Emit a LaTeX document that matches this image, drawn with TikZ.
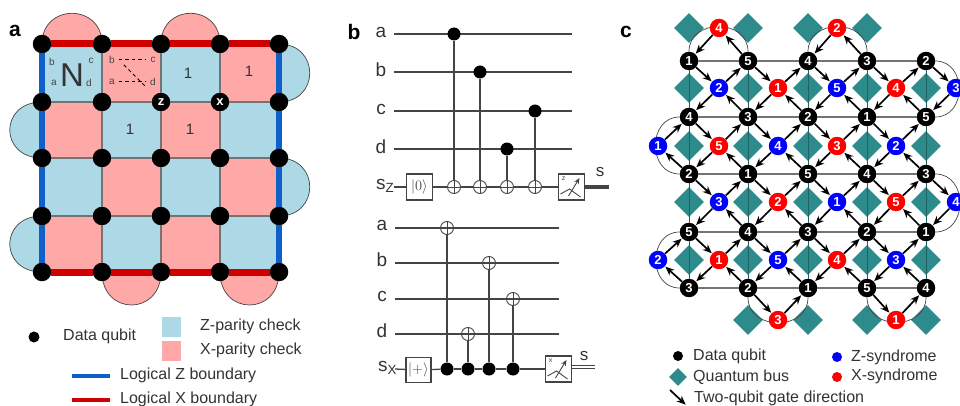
\documentclass[tikz,border=0pt]{standalone}
\usepackage{fontspec}
\setmainfont{Liberation Sans}
\usetikzlibrary{shapes.geometric,arrows.meta}
\definecolor{zchk}{HTML}{ADD8E6}
\definecolor{xchk}{HTML}{FFA8A8}
\definecolor{zline}{HTML}{0F5FC8}
\definecolor{xline}{HTML}{D00000}
\definecolor{busc}{HTML}{2E8B8B}
\definecolor{wirec}{HTML}{444444}
\definecolor{txtc}{HTML}{333333}
\newcommand{\fs}[1]{\fontsize{#1}{#1}\selectfont}
\newcommand{\zcell}[2]{\fill[zchk] (#1,#2) rectangle ++(59.5,57.5);}
\newcommand{\xcell}[2]{\fill[xchk] (#1,#2) rectangle ++(59.5,57.5);}
\newcommand{\meterbox}[4]{%
  \node[measbox] (#1) at (#2,#3) {};
  \draw[wirec,line width=.9pt] (#2-11,#3+7) -- (#2-2,#3+2) -- (#2+9,#3+10);
  \draw[wirec,line width=.9pt,-{Stealth[length=6pt,width=5pt]}] (#2-3,#3+9) -- (#2+8,#3-9);
  \node[text=wirec,inner sep=0pt] at (#2-8,#3-8) {\fs{7}#4};}
\tikzset{
  x=1pt,y=-1pt,
  dq/.style={circle,fill=black,inner sep=0pt,minimum size=18.5pt,text=white,font=\bfseries\fs{13}},
  zs/.style={circle,fill=blue,inner sep=0pt,minimum size=18.5pt,text=white,font=\bfseries\fs{13}},
  xs/.style={circle,fill=red,inner sep=0pt,minimum size=18.5pt,text=white,font=\bfseries\fs{13}},
  bus/.style={diamond,fill=busc,inner sep=0pt,minimum size=30pt},
  gridl/.style={draw=gray!90!black,line width=1.2pt},
  busl/.style={draw=busc!70!black,line width=.7pt},
  arcl/.style={draw=wirec,line width=.7pt},
  gate/.style={black,line width=1.7pt,shorten <=0pt,shorten >=.5pt,-{Stealth[length=9pt,width=7.5pt]}},
  semi/.style={draw=wirec,line width=.7pt},
  panel/.style={font=\bfseries\fs{21},text=black,inner sep=0pt},
  lbl/.style={font=\fs{16},text=txtc,inner sep=0pt,anchor=west},
  small/.style={font=\fs{10},text=wirec,inner sep=0pt},
  one/.style={font=\fs{15},text=txtc,inner sep=0pt},
  wlab/.style={font=\fs{19},text=txtc,inner sep=0pt},
  wire/.style={draw=wirec,line width=1.3pt},
  ctrl/.style={circle,fill=black,inner sep=0pt,minimum size=13pt},
  oplus/.style={circle,draw=wirec,line width=.9pt,inner sep=0pt,minimum size=13pt,
    path picture={\draw[wirec,line width=.9pt]
      (path picture bounding box.north)--(path picture bounding box.south)
      (path picture bounding box.east)--(path picture bounding box.west);}},
  initbox/.style={draw=wirec,fill=white,line width=1.4pt,inner sep=0pt,minimum width=26pt,minimum height=26pt,text=wirec},
  measbox/.style={draw=wirec,fill=white,line width=1.4pt,inner sep=0pt,minimum width=26pt,minimum height=26pt},
  dashl/.style={black,line width=1pt,dash pattern=on 3.5pt off 3pt,shorten <=4pt,shorten >=4pt},
}
\begin{document}
\begin{tikzpicture}
\useasboundingbox (0,0) rectangle (960,406);
% ---------- panel a ----------
\node[panel] (la) at (15,31) {a};
\zcell{42}{44}\xcell{102}{44}\zcell{161}{44}\xcell{220}{44}
\xcell{42}{102}\zcell{102}{102}\xcell{161}{102}\zcell{220}{102}
\zcell{42}{158}\xcell{102}{158}\zcell{161}{158}\xcell{220}{158}
\xcell{42}{215}\zcell{102}{215}\xcell{161}{215}\zcell{220}{215}
\foreach \nm/\x/\y in {a00/42/44,a01/102/44,a02/161/44,a03/220/44,a04/279/44,
  a10/42/102,a11/102/102,a14/279/102,
  a20/42/158,a21/102/158,a22/161/158,a23/220/158,a24/279/158,
  a30/42/216,a31/102/216,a32/161/216,a33/220/216,a34/279/216,
  a40/42/272,a41/102/272,a42/161/272,a43/220/272,a44/279/272}
  {\coordinate (c\nm) at (\x,\y);}
\coordinate (ca12) at (161,102); \coordinate (ca13) at (220,102);
% boundary half circles
\draw[semi,fill=xchk] (ca00) .. controls +(0,-41) and +(0,-41) .. (ca01);
\draw[semi,fill=xchk] (ca02) .. controls +(0,-41) and +(0,-41) .. (ca03);
\draw[semi,fill=xchk] (ca41) .. controls +(0,44) and +(0,44) .. (ca42);
\draw[semi,fill=xchk] (ca43) .. controls +(0,44) and +(0,44) .. (ca44);
\draw[semi,fill=zchk] (ca04) .. controls +(41,0) and +(41,0) .. (ca14);
\draw[semi,fill=zchk] (ca24) .. controls +(41,0) and +(41,0) .. (ca34);
\draw[semi,fill=zchk] (ca10) .. controls +(-43,0) and +(-43,0) .. (ca20);
\draw[semi,fill=zchk] (ca30) .. controls +(-43,0) and +(-43,0) .. (ca40);
% data qubits of panel a
\foreach \nm in {a00,a01,a02,a03,a04,a10,a11,a14,a20,a21,a22,a23,a24,a30,a31,a32,a33,a34,a40,a41,a42,a43,a44}
  {\node[dq] (\nm) at (c\nm) {};}
\node[dq] (a12) at (ca12) {z};
\node[dq] (a13) at (ca13) {x};
\foreach \aa/\bb in {a10/a11,a11/a12,a12/a13,a13/a14,a20/a21,a21/a22,a22/a23,a23/a24,a30/a31,a31/a32,a32/a33,a33/a34,
  a01/a11,a11/a21,a21/a31,a31/a41,a02/a12,a12/a22,a22/a32,a32/a42,a03/a13,a13/a23,a23/a33,a33/a43}
  {\draw[gridl] (\aa) -- (\bb);}
\foreach \aa/\bb in {a00/a10,a10/a20,a20/a30,a30/a40,a04/a14,a14/a24,a24/a34,a34/a44}
  {\draw[zline,line width=6pt] (\aa) -- (\bb);}
\foreach \aa/\bb in {a00/a01,a01/a02,a02/a03,a03/a04,a40/a41,a41/a42,a42/a43,a43/a44}
  {\draw[xline,line width=7pt] (\aa) -- (\bb);}
% cell labels
\node[small] (n1b) at (52,62) {b};
\node[small] (n1c) at (91,61) {c};
\node[small] (n1a) at (54,83) {a};
\node[small] (n1d) at (89,83) {d};
\node[font=\fs{33},text=txtc,inner sep=0pt] (n1N) at (72,75) {N};
\node[small] (n2b) at (112,60) {b};
\node[small] (n2c) at (153,60) {c};
\node[small] (n2a) at (112,82) {a};
\node[small] (n2d) at (153,82) {d};
\coordinate (n2p) at (121,62);
\coordinate (n2q) at (148,89);
\draw[dashl] (n2b) -- (n2c);
\draw[dashl] (n2a) -- (n2d);
\draw[dashl] (n2p) -- (n2q);
\node[one] (o1) at (188,73) {1};
\node[one] (o2) at (249,71) {1};
\node[one] (o3) at (130,129) {1};
\node[one] (o4) at (190,129) {1};
% legend a
\node[circle,fill=black,inner sep=0pt,minimum size=11pt] (lgd) at (34,337) {};
\node[lbl] (lgdt) at (63,336) {Data qubit};
\node[fill=zchk,inner sep=0pt,minimum width=19pt,minimum height=20pt] (lgz) at (171.5,327) {};
\node[fill=xchk,inner sep=0pt,minimum width=19pt,minimum height=20pt] (lgx) at (171.5,351) {};
\node[lbl] (lgzt) at (200,326) {Z-parity check};
\node[lbl] (lgxt) at (200,350) {X-parity check};
\coordinate (lz1) at (72,376); \coordinate (lz2) at (110,376);
\coordinate (lx1) at (72,400); \coordinate (lx2) at (110,400);
\draw[zline,line width=3.5pt] (lz1) -- (lz2);
\draw[xline,line width=3.5pt] (lx1) -- (lx2);
\node[lbl] (lzt) at (120,375) {Logical Z boundary};
\node[lbl] (lxt) at (120,399) {Logical X boundary};
% ---------- panel b ----------
\node[panel] (lb) at (354,32) {b};
\foreach \nm/\txt/\y in {A/a/34,B/b/72,C/c/111,D/d/149}{
  \node[wlab] (u\nm) at (381,\y-2) {\txt};
  \coordinate (us\nm) at (394,\y); \coordinate (ue\nm) at (572,\y);
  \draw[wire] (us\nm) -- (ue\nm);}
\node[wlab,anchor=west] (uS) at (376,186) {s\textsubscript{Z}};
\coordinate (usS) at (394,187);
\node[initbox] (ui) at (419.5,187) {\fs{14}$|0\rangle$};
\meterbox{um}{571.5}{187}{z}
\node[ctrl] (uc1) at (454,34) {};
\node[ctrl] (uc2) at (480,72) {};
\node[ctrl] (uc3) at (507,149) {};
\node[ctrl] (uc4) at (535,111) {};
\node[oplus] (ut1) at (454,187) {};
\node[oplus] (ut2) at (480,187) {};
\node[oplus] (ut3) at (507,187) {};
\node[oplus] (ut4) at (535,187) {};
\draw[wire] (usS) -- (ui);
\draw[wire] (ui) -- (ut1);
\draw[wire] (ut1) -- (ut2);
\draw[wire] (ut2) -- (ut3);
\draw[wire] (ut3) -- (ut4);
\draw[wire] (ut4) -- (um);
\foreach \k in {1,2,3,4}{\draw[wire] (uc\k) -- (ut\k);}
\coordinate (uo) at (609,187);
\draw[wirec,line width=3.5pt] (um) -- (uo);
\node[font=\fs{17},text=txtc,inner sep=0pt] (uss) at (600,172) {s};
\foreach \nm/\txt/\y in {A/a/228,B/b/263,C/c/299,D/d/334}{
  \node[wlab] (v\nm) at (382,\y-3) {\txt};
  \coordinate (vs\nm) at (395,\y); \coordinate (ve\nm) at (559,\y);
  \draw[wire] (vs\nm) -- (ve\nm);}
\node[wlab,anchor=west] (vS) at (378,368) {s\textsubscript{X}};
\coordinate (vsS) at (395,369);
\node[initbox,minimum width=25pt,minimum height=25pt] (vi) at (418.5,370) {\fs{14}$|{+}\rangle$};
\meterbox{vm}{558.5}{369}{x}
\node[oplus] (vt1) at (447,228) {};
\node[oplus] (vt2) at (468,334) {};
\node[oplus] (vt3) at (489,263) {};
\node[oplus] (vt4) at (513,299) {};
\node[ctrl] (vc1) at (447,369) {};
\node[ctrl] (vc2) at (468,369) {};
\node[ctrl] (vc3) at (489,369) {};
\node[ctrl] (vc4) at (513,369) {};
\draw[wire] (vsS) -- (vi);
\draw[wire] (vi) -- (vc1);
\draw[wire] (vc1) -- (vc2);
\draw[wire] (vc2) -- (vc3);
\draw[wire] (vc3) -- (vc4);
\draw[wire] (vc4) -- (vm);
\foreach \k in {1,2,3,4}{\draw[wire] (vc\k) -- (vt\k);}
\coordinate (vo) at (595,367);
\draw[wirec,line width=.9pt,double=white,double distance=1.6pt] (vm.east |- vo) -- (vo);
\node[font=\fs{17},text=txtc,inner sep=0pt] (vss) at (584,356) {s};
% ---------- panel c ----------
\node[panel] (lc) at (626,32) {c};
\foreach \nm/\x/\y in {b1/689/28,b2/748/28,b3/808/28,b4/867/28,
  b5/689/88,b6/748/88,b7/808/88,b8/867/88,b9/926/88,
  b10/689/146,b11/748/146,b12/808/146,b13/867/146,b14/926/146,
  b15/689/202,b16/748/202,b17/808/202,b18/867/202,b19/926/202,
  b20/689/260,b21/748/260,b22/808/260,b23/867/260,b24/926/260,
  b25/748/320,b26/808/320,b27/867/320,b28/926/320}
  {\node[bus] (\nm) at (\x,\y) {};}
\foreach \nm/\x/\y/\num in {q00/689/61/1,q01/748/61/5,q02/808/61/4,q03/867/61/3,q04/926/61/2,
  q10/689/117/4,q11/748/117/3,q12/808/117/2,q13/867/117/1,q14/926/117/5,
  q20/689/174/2,q21/748/174/1,q22/808/174/5,q23/867/174/4,q24/926/174/3,
  q30/689/232/5,q31/748/232/4,q32/808/232/3,q33/867/232/2,q34/926/232/1,
  q40/689/288/3,q41/748/288/2,q42/808/288/1,q43/867/288/5,q44/926/288/4}
  {\node[dq] (\nm) at (\x,\y) {\num};}
\foreach \r in {0,1,2,3,4}{\foreach \aa/\bb in {0/1,1/2,2/3,3/4}{\draw[gridl] (q\r\aa) -- (q\r\bb);}}
\foreach \c in {0,1,2,3,4}{\foreach \aa/\bb in {0/1,1/2,2/3,3/4}{\draw[busl] (q\aa\c) -- (q\bb\c);}}
\draw[arcl] (q00) to[out=90,in=90,looseness=1.45] (q01);
\draw[arcl] (q02) to[out=90,in=90,looseness=1.45] (q03);
\draw[arcl] (q41) to[out=-90,in=-90,looseness=1.45] (q42);
\draw[arcl] (q43) to[out=-90,in=-90,looseness=1.45] (q44);
\draw[arcl] (q04) to[out=0,in=0,looseness=1.45] (q14);
\draw[arcl] (q24) to[out=0,in=0,looseness=1.45] (q34);
\draw[arcl] (q10) to[out=180,in=180,looseness=1.45] (q20);
\draw[arcl] (q30) to[out=180,in=180,looseness=1.45] (q40);
\foreach \ii/\jj/\x/\y/\kind/\num in {
  0/0/719/28/xs/4, 2/0/837/28/xs/2,
  0/1/719/88/zs/2, 1/1/778/88/xs/1, 2/1/837/88/zs/5, 3/1/896/88/xs/4, 4/1/956/88/zs/3,
  -1/2/658/146/zs/1, 0/2/719/146/xs/5, 1/2/778/146/zs/4, 2/2/837/146/xs/3, 3/2/896/146/zs/2,
  0/3/719/202/zs/3, 1/3/778/202/xs/2, 2/3/837/202/zs/1, 3/3/896/202/xs/5, 4/3/956/202/zs/4,
  -1/4/658/260/zs/2, 0/4/719/260/xs/1, 1/4/778/260/zs/5, 2/4/837/260/xs/4, 3/4/896/260/zs/3,
  1/5/778/320/xs/3, 3/5/896/320/xs/1}{
  \pgfmathtruncatemacro{\nc}{\ii+1}
  \pgfmathtruncatemacro{\pr}{\jj-1}
  \node[\kind] (s\nc\jj) at (\x,\y) {\num};
  \ifnum\jj>0
    \ifnum\ii>-1 \draw[gate] (q\pr\ii) -- (s\nc\jj);\fi
    \ifnum\ii<4 \draw[gate] (s\nc\jj) -- (q\pr\nc);\fi
  \fi
  \ifnum\jj<5
    \ifnum\ii>-1 \draw[gate] (s\nc\jj) -- (q\jj\ii);\fi
    \ifnum\ii<4 \draw[gate] (q\jj\nc) -- (s\nc\jj);\fi
  \fi
}
% legend c
\node[circle,fill=black,inner sep=0pt,minimum size=10pt] (lcd) at (678,356) {};
\node[lbl] (lcdt) at (693,356) {Data qubit};
\node[diamond,fill=busc,inner sep=0pt,minimum size=18pt] (lcb) at (678,377) {};
\node[lbl] (lcbt) at (693,377) {Quantum bus};
\coordinate (lca) at (670,390); \coordinate (lcc) at (686,405);
\draw[gate] (lca) -- (lcc);
\node[lbl] (lcat) at (694,398) {Two-qubit gate direction};
\node[circle,fill=blue,inner sep=0pt,minimum size=10pt] (lcz) at (837,357) {};
\node[lbl] (lczt) at (851,357) {Z-syndrome};
\node[circle,fill=red,inner sep=0pt,minimum size=10pt] (lcx) at (837,377) {};
\node[lbl] (lcxt) at (851,376) {X-syndrome};
\end{tikzpicture}
\end{document}
